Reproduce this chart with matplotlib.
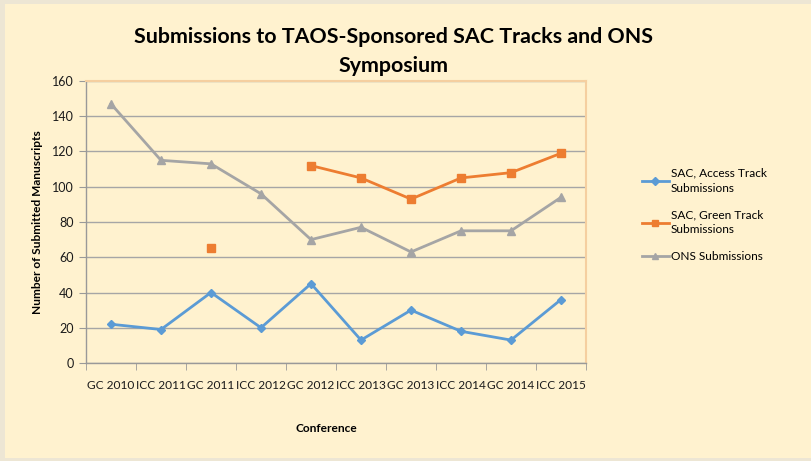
import matplotlib
matplotlib.use("Agg")
import matplotlib.pyplot as plt
import numpy as np
from matplotlib.patches import Rectangle

categories = ["GC 2010", "ICC 2011", "GC 2011", "ICC 2012", "GC 2012",
              "ICC 2013", "GC 2013", "ICC 2014", "GC 2014", "ICC 2015"]
access = [22, 19, 40, 20, 45, 13, 30, 18, 13, 36]
green = [np.nan, np.nan, 65, np.nan, 112, 105, 93, 105, 108, 119]
ons = [147, 115, 113, 96, 70, 77, 63, 75, 75, 94]
yticks = [0, 20, 40, 60, 80, 100, 120, 140, 160]

W, H = 812, 461
fig = plt.figure(figsize=(W / 100, H / 100), dpi=100)
fig.patch.set_facecolor("#EDE6D4")
fam = ["Lato", "DejaVu Sans"]
plt.rcParams["font.family"] = fam

# chart box
fig.patches.append(Rectangle((5 / W, 1 - 458 / H), (812 - 5) / W, (458 - 4) / H,
                             transform=fig.transFigure, facecolor="#FFF2CF",
                             edgecolor="none", zorder=-10))

ax = fig.add_axes([86 / W, 1 - 363 / H, (586 - 86) / W, (363 - 81) / H])
ax.set_zorder(5)
ax.set_facecolor("#FFF2CF")
x = np.arange(len(categories))

ax.plot(x, access, color="#5B9BD5", lw=2, marker="D", ms=4.5, label="SAC, Access Track\nSubmissions", zorder=3)
ax.plot(x, green, color="#ED7D31", lw=2, marker="s", ms=5.5, label="SAC, Green Track\nSubmissions", zorder=3)
ax.plot(x, ons, color="#A5A5A5", lw=2, marker="^", ms=5.5, label="ONS Submissions", zorder=3)

ax.set_xlim(-0.5, len(categories) - 0.5)
ax.set_ylim(0, 160)
ax.set_yticks(yticks)
ax.set_xticks(x)
ax.set_xticklabels(categories, fontsize=8.6, color="#1a1a1a")
ax.set_xticks(np.arange(-0.5, len(categories)), minor=True)
ax.tick_params(axis="x", which="major", length=0, pad=12)
ax.tick_params(axis="x", which="minor", length=5, color="#999999", direction="out")
ax.tick_params(axis="y", length=5, color="#999999", labelsize=9, labelcolor="#1a1a1a", pad=4)
ax.grid(axis="y", color="#A6A6A6", lw=1)
ax.set_axisbelow(True)
for s in ["top", "right"]:
    ax.spines[s].set_color("#F5CFA0")
    ax.spines[s].set_linewidth(1.5)
for s in ["left", "bottom"]:
    ax.spines[s].set_color("#999999")
    ax.spines[s].set_linewidth(1)

ax.set_ylabel("Number of Submitted Manuscripts", fontsize=8.6, fontweight="bold", labelpad=6)
ax.set_xlabel("Conference", fontsize=8.6, fontweight="bold")
ax.xaxis.set_label_coords(0.48, (363 - 428) / (363 - 81), transform=ax.transAxes)
ax.xaxis.label.set_va("center")

fig.text(394 / W, 1 - 37 / H, "Submissions to TAOS-Sponsored SAC Tracks and ONS",
         ha="center", va="center", fontsize=15.4, fontweight="bold")
fig.text(394 / W, 1 - 66 / H, "Symposium",
         ha="center", va="center", fontsize=15.4, fontweight="bold")

leg = ax.legend(loc="upper left", bbox_to_anchor=(631 / W, 1 - 157 / H),
                bbox_transform=fig.transFigure, frameon=False, fontsize=8.6,
                handlelength=2.3, handletextpad=0.15, labelspacing=1.3, markerscale=0.85)
for t in leg.get_texts():
    t.set_linespacing(1.45)

fig.savefig("out.png", dpi=100, facecolor=fig.get_facecolor())
